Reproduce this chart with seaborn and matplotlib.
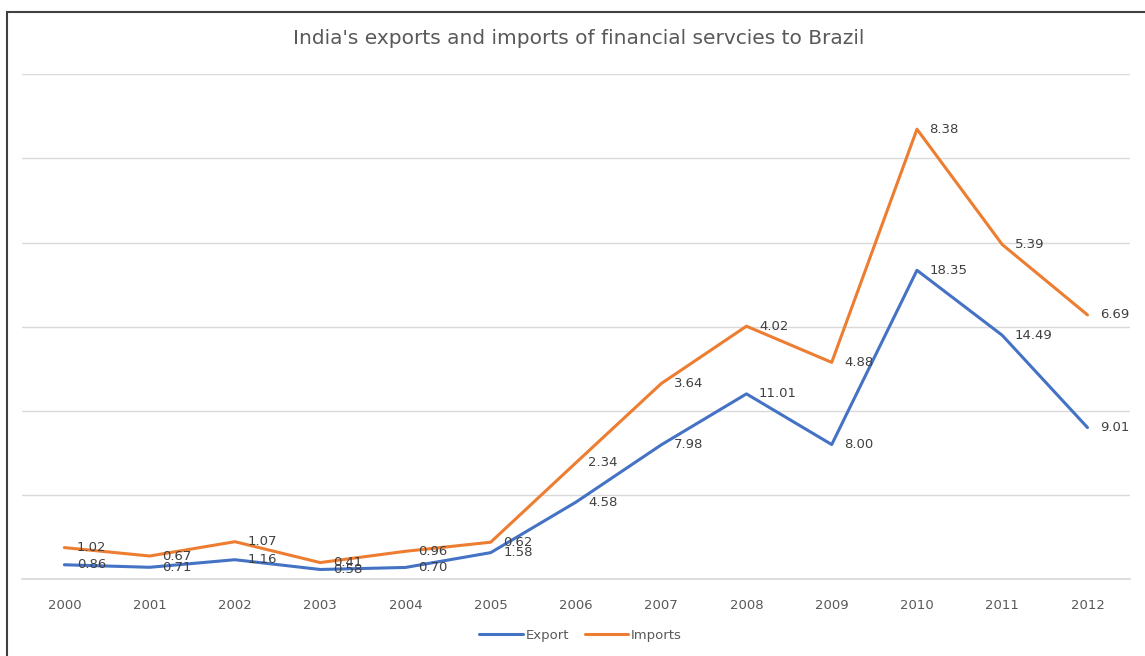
import numpy as np
import pandas as pd
import seaborn as sns
import matplotlib.pyplot as plt
from matplotlib.patches import Rectangle

years = ['2000', '2001', '2002', '2003', '2004', '2005', '2006',
         '2007', '2008', '2009', '2010', '2011', '2012']
export = [0.86, 0.71, 1.16, 0.58, 0.70, 1.58, 4.58, 7.98, 11.01, 8.00, 18.35, 14.49, 9.01]
imports = [1.02, 0.67, 1.07, 0.41, 0.96, 0.62, 2.34, 3.64, 4.02, 4.88, 8.38, 5.39, 6.69]

blue = '#4472C4'
orange = '#ED7D31'
grey_text = '#595959'

sns.set_theme(style='white')
plt.rcParams['font.family'] = ['DejaVu Sans']

# Excel stacked line: imports drawn on top of exports
pos = np.arange(len(years))
top = np.array(export) + np.array(imports)
df = pd.DataFrame({
    'pos': np.concatenate([pos, pos]),
    'value': np.concatenate([export, top]),
    'series': ['Export'] * len(years) + ['Imports'] * len(years),
})

fig = plt.figure(figsize=(11.45, 6.56), dpi=100)
ax = fig.add_axes([0.019, 0.117, 0.968, 0.770])

sns.lineplot(data=df, x='pos', y='value', hue='series',
             palette={'Export': blue, 'Imports': orange},
             linewidth=2.2, ax=ax, legend=False)

ax.set_xlim(-0.5, len(years) - 0.5)
ax.set_ylim(0, 30)
ax.set_yticks(np.arange(0, 31, 5))
ax.set_yticklabels([])
ax.tick_params(axis='y', length=0)
ax.yaxis.grid(True, color='#D9D9D9', linewidth=1)
ax.set_axisbelow(True)
for s in ['top', 'right', 'left']:
    ax.spines[s].set_visible(False)
ax.spines['bottom'].set_color('#D9D9D9')
ax.set_xticks(pos)
ax.set_xticklabels(years, color=grey_text, fontsize=9.5)
ax.tick_params(axis='x', length=0, pad=14)
ax.set_xlabel('')
ax.set_ylabel('')

for i in range(len(years)):
    ax.annotate(f'{export[i]:.2f}', (pos[i], export[i]), xytext=(9, 0),
                textcoords='offset points', ha='left', va='center',
                fontsize=9.5, color='#404040')
    ax.annotate(f'{imports[i]:.2f}', (pos[i], top[i]), xytext=(9, 0),
                textcoords='offset points', ha='left', va='center',
                fontsize=9.5, color='#404040')

fig.text(0.505, 0.942, "India's exports and imports of financial servcies to Brazil",
         ha='center', va='center', fontsize=14.5, color=grey_text)

handles = [plt.Line2D([], [], color=blue, linewidth=2.2),
           plt.Line2D([], [], color=orange, linewidth=2.2)]
fig.legend(handles, ['Export', 'Imports'], loc='center', ncol=2,
           bbox_to_anchor=(0.507, 0.032), frameon=False, fontsize=9.5,
           handlelength=3.3, handletextpad=0.2, columnspacing=1.2,
           labelcolor=grey_text)

fig.patches.append(Rectangle((0.006, -0.01), 1.0, 1 - 12 / 656 + 0.01,
                             transform=fig.transFigure, fill=False,
                             edgecolor='#404040', linewidth=1.5))

fig.savefig('out.png', dpi=100)
